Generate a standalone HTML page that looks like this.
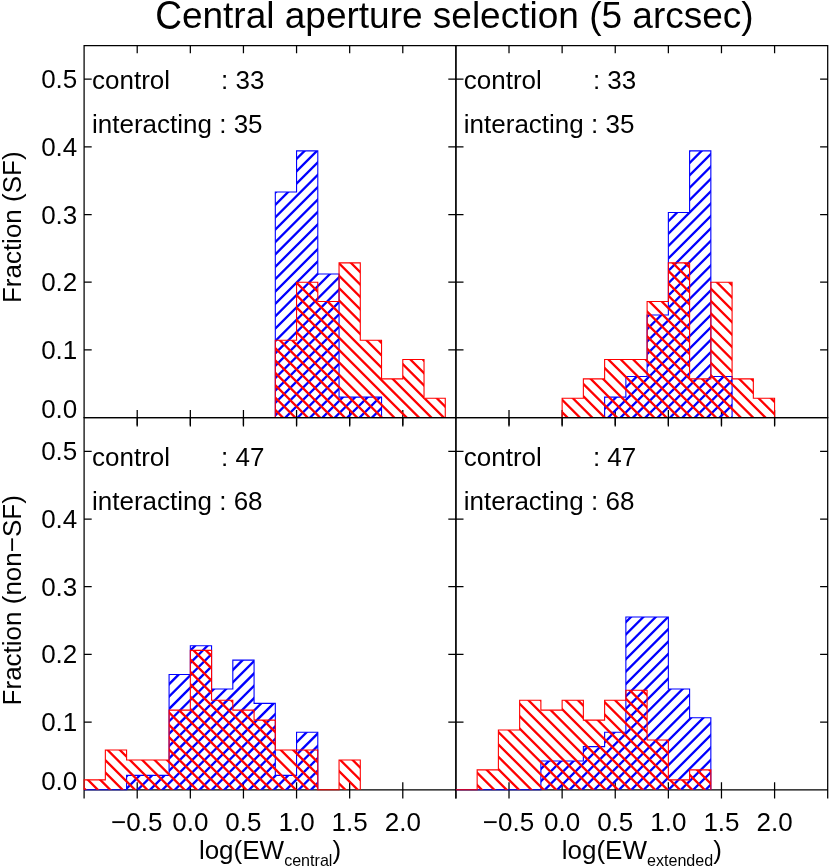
<!DOCTYPE html>
<html><head><meta charset="utf-8"><title>Central aperture selection</title>
<style>
html,body{margin:0;padding:0;background:#fff;}
svg{display:block;font-family:"Liberation Sans",sans-serif;}
</style></head><body>
<svg width="830" height="868" viewBox="0 0 830 868">
<rect x="0" y="0" width="830" height="868" fill="#ffffff"/>
<defs><clipPath id="c1"><path d="M275.31 417.60 L275.31 191.93 L296.56 191.93 L296.56 150.90 L317.80 150.90 L317.80 273.99 L339.05 273.99 L339.05 397.08 L360.29 397.08 L360.29 397.08 L381.54 397.08 L381.54 417.60 Z"/></clipPath><clipPath id="c2"><path d="M275.31 417.60 L275.31 340.23 L296.56 340.23 L296.56 282.20 L317.80 282.20 L317.80 301.54 L339.05 301.54 L339.05 262.86 L360.29 262.86 L360.29 340.23 L381.54 340.23 L381.54 378.91 L402.79 378.91 L402.79 359.57 L424.03 359.57 L424.03 398.26 L445.28 398.26 L445.28 417.60 Z"/></clipPath><clipPath id="c3"><path d="M604.62 417.60 L604.62 397.08 L625.87 397.08 L625.87 376.57 L647.11 376.57 L647.11 315.02 L668.36 315.02 L668.36 212.45 L689.60 212.45 L689.60 150.90 L710.85 150.90 L710.85 376.57 L732.09 376.57 L732.09 417.60 Z"/></clipPath><clipPath id="c4"><path d="M562.13 417.60 L562.13 398.26 L583.37 398.26 L583.37 378.91 L604.62 378.91 L604.62 359.57 L625.87 359.57 L625.87 359.57 L647.11 359.57 L647.11 301.54 L668.36 301.54 L668.36 262.86 L689.60 262.86 L689.60 378.91 L710.85 378.91 L710.85 282.20 L732.09 282.20 L732.09 378.91 L753.34 378.91 L753.34 398.26 L774.59 398.26 L774.59 417.60 Z"/></clipPath><clipPath id="c5"><path d="M126.59 789.80 L126.59 775.40 L147.84 775.40 L147.84 775.40 L169.08 775.40 L169.08 674.57 L190.33 674.57 L190.33 645.76 L211.57 645.76 L211.57 688.97 L232.82 688.97 L232.82 660.16 L254.07 660.16 L254.07 703.37 L275.31 703.37 L275.31 775.40 L296.56 775.40 L296.56 732.18 L317.80 732.18 L317.80 789.80 Z"/></clipPath><clipPath id="c6"><path d="M84.10 789.80 L84.10 779.84 L105.35 779.84 L105.35 749.98 L126.59 749.98 L126.59 759.93 L147.84 759.93 L147.84 759.93 L169.08 759.93 L169.08 710.15 L190.33 710.15 L190.33 650.42 L211.57 650.42 L211.57 700.20 L232.82 700.20 L232.82 710.15 L254.07 710.15 L254.07 720.11 L275.31 720.11 L275.31 749.98 L296.56 749.98 L296.56 749.98 L317.80 749.98 L317.80 789.80 L339.05 789.80 L339.05 759.93 L360.29 759.93 L360.29 789.80 Z"/></clipPath><clipPath id="c7"><path d="M540.88 789.80 L540.88 760.99 L562.13 760.99 L562.13 760.99 L583.37 760.99 L583.37 746.59 L604.62 746.59 L604.62 732.18 L625.87 732.18 L625.87 616.95 L647.11 616.95 L647.11 616.95 L668.36 616.95 L668.36 688.97 L689.60 688.97 L689.60 717.78 L710.85 717.78 L710.85 789.80 Z"/></clipPath><clipPath id="c8"><path d="M477.15 789.80 L477.15 769.89 L498.39 769.89 L498.39 730.06 L519.64 730.06 L519.64 700.20 L540.88 700.20 L540.88 710.15 L562.13 710.15 L562.13 700.20 L583.37 700.20 L583.37 720.11 L604.62 720.11 L604.62 700.20 L625.87 700.20 L625.87 690.24 L647.11 690.24 L647.11 740.02 L668.36 740.02 L668.36 779.84 L689.60 779.84 L689.60 769.89 L710.85 769.89 L710.85 789.80 Z"/></clipPath></defs>
<!-- panel TL -->
<path d="M84.10 45.08V418.23M455.90 45.08V418.23M83.47 45.70H456.52M83.47 417.60H456.52M137.21 45.70v7.6M137.21 410.00V426.40M190.33 45.70v7.6M190.33 410.00V426.40M243.44 45.70v7.6M243.44 410.00V426.40M296.56 45.70v7.6M296.56 410.00V426.40M349.67 45.70v7.6M349.67 410.00V426.40M402.79 45.70v7.6M402.79 410.00V426.40M84.10 349.90h7.6M455.90 349.90h-7.6M84.10 282.20h7.6M455.90 282.20h-7.6M84.10 214.50h7.6M455.90 214.50h-7.6M84.10 146.80h7.6M455.90 146.80h-7.6M84.10 79.10h7.6M455.90 79.10h-7.6" stroke="#000" stroke-width="1.25" fill="none"/>
<path d="M272.31 146.02L384.54 33.79M272.31 158.39L384.54 46.17M272.31 170.77L384.54 58.54M272.31 183.14L384.54 70.92M272.31 195.52L384.54 83.29M272.31 207.89L384.54 95.67M272.31 220.27L384.54 108.04M272.31 232.64L384.54 120.42M272.31 245.02L384.54 132.79M272.31 257.39L384.54 145.16M272.31 269.77L384.54 157.54M272.31 282.14L384.54 169.91M272.31 294.52L384.54 182.29M272.31 306.89L384.54 194.66M272.31 319.27L384.54 207.04M272.31 331.64L384.54 219.41M272.31 344.02L384.54 231.79M272.31 356.39L384.54 244.16M272.31 368.77L384.54 256.54M272.31 381.14L384.54 268.91M272.31 393.52L384.54 281.29M272.31 405.89L384.54 293.66M272.31 418.27L384.54 306.04M272.31 430.64L384.54 318.41M272.31 443.02L384.54 330.79M272.31 455.39L384.54 343.16M272.31 467.77L384.54 355.54M272.31 480.14L384.54 367.91M272.31 492.52L384.54 380.29M272.31 504.89L384.54 392.66M272.31 517.27L384.54 405.04M272.31 529.64L384.54 417.41" stroke="#0000ff" stroke-width="2.3" fill="none" clip-path="url(#c1)"/>
<path d="M275.31 417.60 L275.31 191.93 L296.56 191.93 L296.56 150.90 L317.80 150.90 L317.80 273.99 L339.05 273.99 L339.05 397.08 L360.29 397.08 L360.29 397.08 L381.54 397.08 L381.54 417.60" stroke="#0000ff" stroke-width="1.1" fill="none" stroke-linejoin="miter"/>
<path d="M272.31 85.24L448.28 261.20M272.31 97.61L448.28 273.58M272.31 109.99L448.28 285.95M272.31 122.36L448.28 298.33M272.31 134.74L448.28 310.70M272.31 147.11L448.28 323.08M272.31 159.49L448.28 335.45M272.31 171.86L448.28 347.83M272.31 184.24L448.28 360.20M272.31 196.61L448.28 372.58M272.31 208.99L448.28 384.95M272.31 221.36L448.28 397.33M272.31 233.74L448.28 409.70M272.31 246.11L448.28 422.08M272.31 258.49L448.28 434.45M272.31 270.86L448.28 446.83M272.31 283.24L448.28 459.20M272.31 295.61L448.28 471.58M272.31 307.99L448.28 483.95M272.31 320.36L448.28 496.33M272.31 332.74L448.28 508.70M272.31 345.11L448.28 521.08M272.31 357.49L448.28 533.45M272.31 369.86L448.28 545.83M272.31 382.24L448.28 558.20M272.31 394.61L448.28 570.58M272.31 406.99L448.28 582.95M272.31 419.36L448.28 595.33" stroke="#ff0000" stroke-width="2.3" fill="none" clip-path="url(#c2)"/>
<path d="M275.31 417.60 L275.31 340.23 L296.56 340.23 L296.56 282.20 L317.80 282.20 L317.80 301.54 L339.05 301.54 L339.05 262.86 L360.29 262.86 L360.29 340.23 L381.54 340.23 L381.54 378.91 L402.79 378.91 L402.79 359.57 L424.03 359.57 L424.03 398.26 L445.28 398.26 L445.28 417.60" stroke="#ff0000" stroke-width="1.1" fill="none" stroke-linejoin="miter"/>
<!-- panel TR -->
<path d="M455.90 45.08V418.23M827.70 45.08V418.23M455.27 45.70H828.33M455.27 417.60H828.33M509.01 45.70v7.6M509.01 410.00V426.40M562.13 45.70v7.6M562.13 410.00V426.40M615.24 45.70v7.6M615.24 410.00V426.40M668.36 45.70v7.6M668.36 410.00V426.40M721.47 45.70v7.6M721.47 410.00V426.40M774.59 45.70v7.6M774.59 410.00V426.40M455.90 349.90h7.6M827.70 349.90h-7.6M455.90 282.20h7.6M827.70 282.20h-7.6M455.90 214.50h7.6M827.70 214.50h-7.6M455.90 146.80h7.6M827.70 146.80h-7.6M455.90 79.10h7.6M827.70 79.10h-7.6" stroke="#000" stroke-width="1.25" fill="none"/>
<path d="M601.62 151.94L735.09 18.46M601.62 164.31L735.09 30.84M601.62 176.69L735.09 43.21M601.62 189.06L735.09 55.59M601.62 201.44L735.09 67.96M601.62 213.81L735.09 80.34M601.62 226.19L735.09 92.71M601.62 238.56L735.09 105.09M601.62 250.94L735.09 117.46M601.62 263.31L735.09 129.84M601.62 275.69L735.09 142.21M601.62 288.06L735.09 154.59M601.62 300.44L735.09 166.96M601.62 312.81L735.09 179.34M601.62 325.19L735.09 191.71M601.62 337.56L735.09 204.09M601.62 349.94L735.09 216.46M601.62 362.31L735.09 228.84M601.62 374.69L735.09 241.21M601.62 387.06L735.09 253.59M601.62 399.44L735.09 265.96M601.62 411.81L735.09 278.34M601.62 424.18L735.09 290.71M601.62 436.56L735.09 303.09M601.62 448.93L735.09 315.46M601.62 461.31L735.09 327.84M601.62 473.68L735.09 340.21M601.62 486.06L735.09 352.59M601.62 498.43L735.09 364.96M601.62 510.81L735.09 377.34M601.62 523.18L735.09 389.71M601.62 535.56L735.09 402.09M601.62 547.93L735.09 414.46M601.62 560.31L735.09 426.84" stroke="#0000ff" stroke-width="2.3" fill="none" clip-path="url(#c3)"/>
<path d="M604.62 417.60 L604.62 397.08 L625.87 397.08 L625.87 376.57 L647.11 376.57 L647.11 315.02 L668.36 315.02 L668.36 212.45 L689.60 212.45 L689.60 150.90 L710.85 150.90 L710.85 376.57 L732.09 376.57 L732.09 417.60" stroke="#0000ff" stroke-width="1.1" fill="none" stroke-linejoin="miter"/>
<path d="M559.13 37.93L777.59 256.39M559.13 50.30L777.59 268.76M559.13 62.68L777.59 281.14M559.13 75.05L777.59 293.51M559.13 87.43L777.59 305.89M559.13 99.80L777.59 318.26M559.13 112.18L777.59 330.64M559.13 124.55L777.59 343.01M559.13 136.93L777.59 355.39M559.13 149.30L777.59 367.76M559.13 161.68L777.59 380.14M559.13 174.05L777.59 392.51M559.13 186.43L777.59 404.89M559.13 198.80L777.59 417.26M559.13 211.18L777.59 429.64M559.13 223.55L777.59 442.01M559.13 235.93L777.59 454.39M559.13 248.30L777.59 466.76M559.13 260.68L777.59 479.14M559.13 273.05L777.59 491.51M559.13 285.43L777.59 503.89M559.13 297.80L777.59 516.26M559.13 310.18L777.59 528.64M559.13 322.55L777.59 541.01M559.13 334.93L777.59 553.39M559.13 347.30L777.59 565.76M559.13 359.68L777.59 578.14M559.13 372.05L777.59 590.51M559.13 384.43L777.59 602.89M559.13 396.80L777.59 615.26M559.13 409.18L777.59 627.64M559.13 421.55L777.59 640.01" stroke="#ff0000" stroke-width="2.3" fill="none" clip-path="url(#c4)"/>
<path d="M562.13 417.60 L562.13 398.26 L583.37 398.26 L583.37 378.91 L604.62 378.91 L604.62 359.57 L625.87 359.57 L625.87 359.57 L647.11 359.57 L647.11 301.54 L668.36 301.54 L668.36 262.86 L689.60 262.86 L689.60 378.91 L710.85 378.91 L710.85 282.20 L732.09 282.20 L732.09 378.91 L753.34 378.91 L753.34 398.26 L774.59 398.26 L774.59 417.60" stroke="#ff0000" stroke-width="1.1" fill="none" stroke-linejoin="miter"/>
<!-- panel BL -->
<path d="M84.10 416.98V798.60M455.90 416.98V798.60M83.47 417.60H456.52M83.47 789.80H456.52M137.21 417.60v7.6M137.21 782.20V798.60M190.33 417.60v7.6M190.33 782.20V798.60M243.44 417.60v7.6M243.44 782.20V798.60M296.56 417.60v7.6M296.56 782.20V798.60M349.67 417.60v7.6M349.67 782.20V798.60M402.79 417.60v7.6M402.79 782.20V798.60M84.10 722.10h7.6M455.90 722.10h-7.6M84.10 654.40h7.6M455.90 654.40h-7.6M84.10 586.70h7.6M455.90 586.70h-7.6M84.10 519.00h7.6M455.90 519.00h-7.6M84.10 451.30h7.6M455.90 451.30h-7.6" stroke="#000" stroke-width="1.25" fill="none"/>
<path d="M123.59 643.04L320.80 445.83M123.59 655.41L320.80 458.20M123.59 667.79L320.80 470.58M123.59 680.16L320.80 482.95M123.59 692.54L320.80 495.33M123.59 704.91L320.80 507.70M123.59 717.29L320.80 520.08M123.59 729.66L320.80 532.45M123.59 742.04L320.80 544.83M123.59 754.41L320.80 557.20M123.59 766.79L320.80 569.58M123.59 779.16L320.80 581.95M123.59 791.54L320.80 594.33M123.59 803.91L320.80 606.70M123.59 816.29L320.80 619.08M123.59 828.66L320.80 631.45M123.59 841.04L320.80 643.83M123.59 853.41L320.80 656.20M123.59 865.79L320.80 668.58M123.59 878.16L320.80 680.95M123.59 890.54L320.80 693.33M123.59 902.91L320.80 705.70M123.59 915.29L320.80 718.08M123.59 927.66L320.80 730.45M123.59 940.04L320.80 742.83M123.59 952.41L320.80 755.20M123.59 964.79L320.80 767.58M123.59 977.16L320.80 779.95M123.59 989.54L320.80 792.33" stroke="#0000ff" stroke-width="2.3" fill="none" clip-path="url(#c5)"/>
<path d="M84.10 789.80 L126.59 789.80 L126.59 775.40 L147.84 775.40 L147.84 775.40 L169.08 775.40 L169.08 674.57 L190.33 674.57 L190.33 645.76 L211.57 645.76 L211.57 688.97 L232.82 688.97 L232.82 660.16 L254.07 660.16 L254.07 703.37 L275.31 703.37 L275.31 775.40 L296.56 775.40 L296.56 732.18 L317.80 732.18 L317.80 789.80" stroke="#0000ff" stroke-width="1.1" fill="none" stroke-linejoin="miter"/>
<path d="M81.10 364.67L363.29 646.87M81.10 377.05L363.29 659.24M81.10 389.42L363.29 671.62M81.10 401.80L363.29 683.99M81.10 414.17L363.29 696.37M81.10 426.55L363.29 708.74M81.10 438.92L363.29 721.12M81.10 451.30L363.29 733.49M81.10 463.67L363.29 745.87M81.10 476.05L363.29 758.24M81.10 488.42L363.29 770.62M81.10 500.80L363.29 782.99M81.10 513.17L363.29 795.37M81.10 525.55L363.29 807.74M81.10 537.92L363.29 820.12M81.10 550.30L363.29 832.49M81.10 562.67L363.29 844.87M81.10 575.05L363.29 857.24M81.10 587.42L363.29 869.62M81.10 599.80L363.29 881.99M81.10 612.17L363.29 894.37M81.10 624.55L363.29 906.74M81.10 636.92L363.29 919.12M81.10 649.30L363.29 931.49M81.10 661.67L363.29 943.87M81.10 674.05L363.29 956.24M81.10 686.42L363.29 968.62M81.10 698.80L363.29 980.99M81.10 711.17L363.29 993.37M81.10 723.55L363.29 1005.74M81.10 735.92L363.29 1018.12M81.10 748.30L363.29 1030.49M81.10 760.67L363.29 1042.87M81.10 773.05L363.29 1055.24M81.10 785.42L363.29 1067.62M81.10 797.80L363.29 1079.99" stroke="#ff0000" stroke-width="2.3" fill="none" clip-path="url(#c6)"/>
<path d="M84.10 789.80 L84.10 779.84 L105.35 779.84 L105.35 749.98 L126.59 749.98 L126.59 759.93 L147.84 759.93 L147.84 759.93 L169.08 759.93 L169.08 710.15 L190.33 710.15 L190.33 650.42 L211.57 650.42 L211.57 700.20 L232.82 700.20 L232.82 710.15 L254.07 710.15 L254.07 720.11 L275.31 720.11 L275.31 749.98 L296.56 749.98 L296.56 749.98 L317.80 749.98 L317.80 789.80 L339.05 789.80 L339.05 759.93 L360.29 759.93 L360.29 789.80" stroke="#ff0000" stroke-width="1.1" fill="none" stroke-linejoin="miter"/>
<!-- panel BR -->
<path d="M455.90 416.98V798.60M827.70 416.98V798.60M455.27 417.60H828.33M455.27 789.80H828.33M509.01 417.60v7.6M509.01 782.20V798.60M562.13 417.60v7.6M562.13 782.20V798.60M615.24 417.60v7.6M615.24 782.20V798.60M668.36 417.60v7.6M668.36 782.20V798.60M721.47 417.60v7.6M721.47 782.20V798.60M774.59 417.60v7.6M774.59 782.20V798.60M455.90 722.10h7.6M827.70 722.10h-7.6M455.90 654.40h7.6M827.70 654.40h-7.6M455.90 586.70h7.6M827.70 586.70h-7.6M455.90 519.00h7.6M827.70 519.00h-7.6M455.90 451.30h7.6M827.70 451.30h-7.6" stroke="#000" stroke-width="1.25" fill="none"/>
<path d="M537.88 611.07L713.85 435.11M537.88 623.45L713.85 447.48M537.88 635.82L713.85 459.86M537.88 648.20L713.85 472.23M537.88 660.57L713.85 484.61M537.88 672.95L713.85 496.98M537.88 685.32L713.85 509.36M537.88 697.70L713.85 521.73M537.88 710.07L713.85 534.11M537.88 722.45L713.85 546.48M537.88 734.82L713.85 558.86M537.88 747.20L713.85 571.23M537.88 759.57L713.85 583.61M537.88 771.95L713.85 595.98M537.88 784.32L713.85 608.36M537.88 796.70L713.85 620.73M537.88 809.07L713.85 633.11M537.88 821.45L713.85 645.48M537.88 833.82L713.85 657.86M537.88 846.20L713.85 670.23M537.88 858.57L713.85 682.61M537.88 870.95L713.85 694.98M537.88 883.32L713.85 707.36M537.88 895.70L713.85 719.73M537.88 908.07L713.85 732.11M537.88 920.45L713.85 744.48M537.88 932.82L713.85 756.86M537.88 945.20L713.85 769.23M537.88 957.57L713.85 781.61M537.88 969.95L713.85 793.98" stroke="#0000ff" stroke-width="2.3" fill="none" clip-path="url(#c7)"/>
<path d="M455.90 789.80 L540.88 789.80 L540.88 760.99 L562.13 760.99 L562.13 760.99 L583.37 760.99 L583.37 746.59 L604.62 746.59 L604.62 732.18 L625.87 732.18 L625.87 616.95 L647.11 616.95 L647.11 616.95 L668.36 616.95 L668.36 688.97 L689.60 688.97 L689.60 717.78 L710.85 717.78 L710.85 789.80" stroke="#0000ff" stroke-width="1.1" fill="none" stroke-linejoin="miter"/>
<path d="M474.15 447.95L713.85 687.65M474.15 460.32L713.85 700.02M474.15 472.70L713.85 712.40M474.15 485.07L713.85 724.77M474.15 497.45L713.85 737.15M474.15 509.82L713.85 749.52M474.15 522.20L713.85 761.90M474.15 534.57L713.85 774.27M474.15 546.95L713.85 786.65M474.15 559.32L713.85 799.02M474.15 571.70L713.85 811.40M474.15 584.07L713.85 823.77M474.15 596.45L713.85 836.15M474.15 608.82L713.85 848.52M474.15 621.20L713.85 860.90M474.15 633.57L713.85 873.27M474.15 645.95L713.85 885.65M474.15 658.32L713.85 898.02M474.15 670.70L713.85 910.40M474.15 683.07L713.85 922.77M474.15 695.45L713.85 935.15M474.15 707.82L713.85 947.52M474.15 720.20L713.85 959.90M474.15 732.57L713.85 972.27M474.15 744.95L713.85 984.65M474.15 757.32L713.85 997.02M474.15 769.70L713.85 1009.40M474.15 782.07L713.85 1021.77M474.15 794.45L713.85 1034.15" stroke="#ff0000" stroke-width="2.3" fill="none" clip-path="url(#c8)"/>
<path d="M455.90 789.80 L477.15 789.80 L477.15 769.89 L498.39 769.89 L498.39 730.06 L519.64 730.06 L519.64 700.20 L540.88 700.20 L540.88 710.15 L562.13 710.15 L562.13 700.20 L583.37 700.20 L583.37 720.11 L604.62 720.11 L604.62 700.20 L625.87 700.20 L625.87 690.24 L647.11 690.24 L647.11 740.02 L668.36 740.02 L668.36 779.84 L689.60 779.84 L689.60 769.89 L710.85 769.89 L710.85 789.80" stroke="#ff0000" stroke-width="1.1" fill="none" stroke-linejoin="miter"/>
<g fill="#000" font-size="26" style="will-change:opacity;isolation:isolate" opacity="0.999">
<text transform="translate(155.18 28.60) scale(1 1.105)" font-size="37.0">C</text>
<text x="181.90" y="28.30" font-size="37.0">entral aperture selection (5 arcsec)</text>
<text x="77.3" y="417.90" text-anchor="end">0.0</text>
<text x="77.3" y="358.90" text-anchor="end">0.1</text>
<text x="77.3" y="291.20" text-anchor="end">0.2</text>
<text x="77.3" y="223.50" text-anchor="end">0.3</text>
<text x="77.3" y="155.80" text-anchor="end">0.4</text>
<text x="77.3" y="88.10" text-anchor="end">0.5</text>
<text x="77.3" y="790.10" text-anchor="end">0.0</text>
<text x="77.3" y="731.10" text-anchor="end">0.1</text>
<text x="77.3" y="663.40" text-anchor="end">0.2</text>
<text x="77.3" y="595.70" text-anchor="end">0.3</text>
<text x="77.3" y="528.00" text-anchor="end">0.4</text>
<text x="77.3" y="460.30" text-anchor="end">0.5</text>
<text x="136.71" y="831.2" text-anchor="middle">−0.5</text>
<text x="190.33" y="831.2" text-anchor="middle">0.0</text>
<text x="243.44" y="831.2" text-anchor="middle">0.5</text>
<text x="296.56" y="831.2" text-anchor="middle">1.0</text>
<text x="349.67" y="831.2" text-anchor="middle">1.5</text>
<text x="402.79" y="831.2" text-anchor="middle">2.0</text>
<text x="508.51" y="831.2" text-anchor="middle">−0.5</text>
<text x="562.13" y="831.2" text-anchor="middle">0.0</text>
<text x="615.24" y="831.2" text-anchor="middle">0.5</text>
<text x="668.36" y="831.2" text-anchor="middle">1.0</text>
<text x="721.47" y="831.2" text-anchor="middle">1.5</text>
<text x="774.59" y="831.2" text-anchor="middle">2.0</text>
<text x="92.00" y="89.40">control</text>
<text x="221.10" y="89.40">: 33</text>
<text x="92.00" y="132.50">interacting : 35</text>
<text x="92.00" y="465.80">control</text>
<text x="221.10" y="465.80">: 47</text>
<text x="92.00" y="509.70">interacting : 68</text>
<text x="463.80" y="89.40">control</text>
<text x="592.90" y="89.40">: 33</text>
<text x="463.80" y="132.50">interacting : 35</text>
<text x="463.80" y="465.80">control</text>
<text x="592.90" y="465.80">: 47</text>
<text x="463.80" y="509.70">interacting : 68</text>
<text transform="translate(21.2 303.1) rotate(-90)">Fraction (SF)</text>
<text transform="translate(21.2 705.4) rotate(-90)">Fraction (non−SF)</text>
<text x="270.00" y="858.5" text-anchor="middle">log(EW<tspan font-size="16.1" dy="7">central</tspan><tspan dy="-7">)</tspan></text>
<text x="641.80" y="858.5" text-anchor="middle">log(EW<tspan font-size="16.1" dy="7">extended</tspan><tspan dy="-7">)</tspan></text>
</g>
</svg></body></html>
